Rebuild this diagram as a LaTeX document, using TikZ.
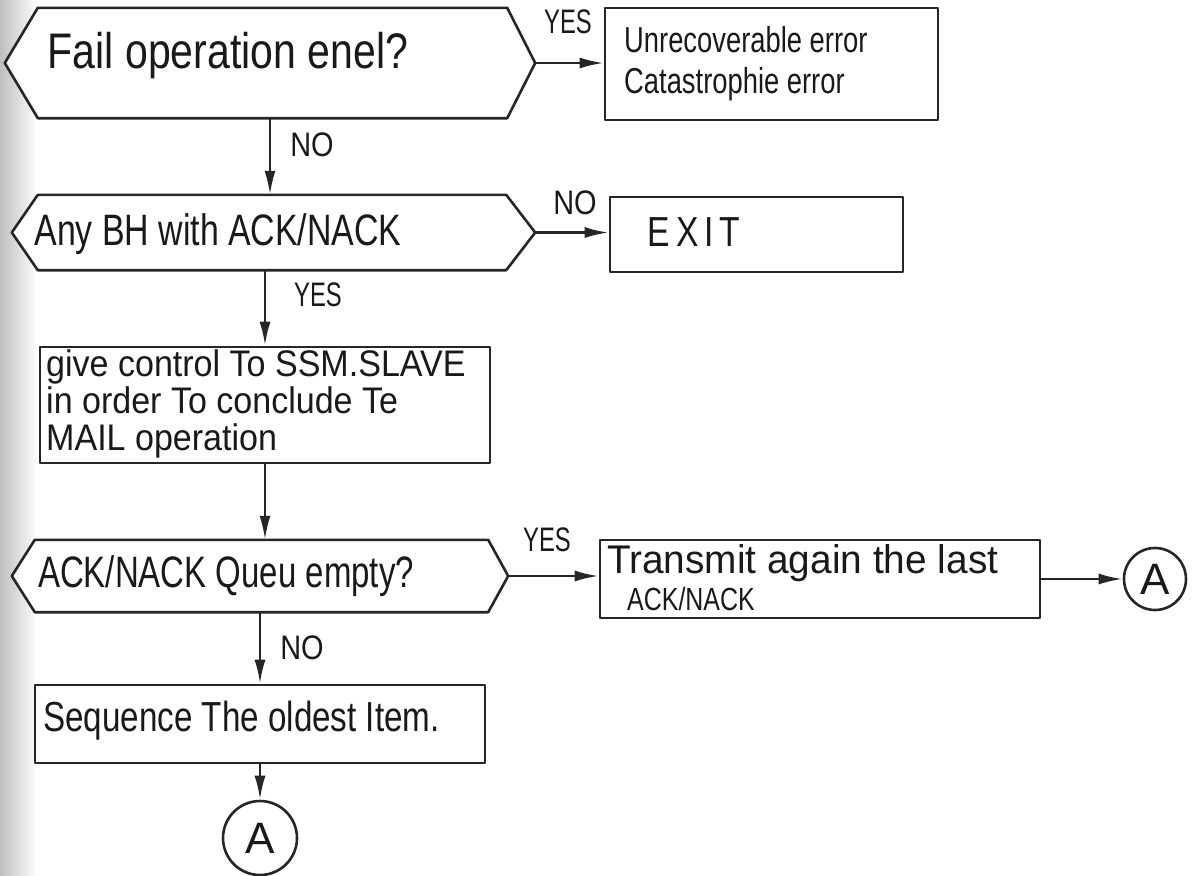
\documentclass[tikz,border=0pt]{standalone}
\usepackage{fontspec}
\usepackage{graphicx}
\setmainfont{Liberation Sans}
\usetikzlibrary{arrows.meta,calc}
% outline of a decision hexagon around an (undrawn) node: #1 name, #2 left tip depth, #3 right tip depth
\newcommand\hexoutline[3]{%
  \draw[ink,fill=white] (#1.west) -- ($(#1.north west)+(#2,0)$) -- ($(#1.north east)+(-#3,0)$)
    -- (#1.east) -- ($(#1.south east)+(-#3,0)$) -- ($(#1.south west)+(#2,0)$) -- cycle;}
% font size and a narrow, upright lettering
\newcommand\fs[1]{\fontsize{#1}{37}\selectfont}
\newcommand\sq[2]{\scalebox{#1}[1]{#2}}
\begin{document}
\begin{tikzpicture}[x=1pt,y=-1pt,
  ink/.style={draw=black!85,line width=2.6pt,line join=round},
  frame/.style={ink,fill=white,rectangle,inner sep=0pt},
  hexa/.style={inner sep=0pt},
  txt/.style={inner sep=0pt,text=black!90},
  lbl/.style={inner sep=0pt,font=\fs{34},text=black!90},
  flow/.style={draw=black!85,line width=2.6pt,-{Latex[length=24pt,width=11pt]}},
  conn/.style={ink,fill=white,circle,inner sep=0pt,font=\fs{44},text=black!90}
]
\useasboundingbox (0,0) rectangle (1203,876);
\fill[white] (0,0) rectangle (1203,876);
\shade[left color=black!25,right color=white] (0,0) rectangle (38,876);

% first decision and its error exit
\node[hexa,minimum width=530pt,minimum height=110pt] (d1) at (270,63) {};
\hexoutline{d1}{33}{28}
\node[txt,font=\fs{50}] (d1t) at (228,56) {\sq{0.82}{Fail operation enel?}};
\node[frame,minimum width=333pt,minimum height=112pt] (b1) at (771.5,64) {};
\node[txt,font=\fs{36},anchor=west,align=left] (b1t) at (624,64)
  {\sq{0.76}{Unrecoverable error}\\[4pt]\sq{0.76}{Catastrophie error}};
\draw[flow] (d1.east) -- (d1.east -| b1.west);
\node[lbl] (y1) at (568,22) {\sq{0.7}{YES}};

% second decision
\node[hexa,minimum width=523pt,minimum height=75pt] (d2) at (273.5,232.5) {};
\hexoutline{d2}{26}{29}
\node[txt,font=\fs{44}] (d2t) at (218,234) {\sq{0.77}{Any BH with ACK/NACK}};
\draw[flow] (d1.south) -- (d1.south |- d2.north);
\node[lbl] (n1) at (312,145) {\sq{0.85}{NO}};
\node[frame,minimum width=293pt,minimum height=75pt] (b2) at (756.5,234.5) {};
\node[txt,font=\fs{42}] (b2t) at (694,232) {\sq{0.8}{\addfontfeature{LetterSpace=18}EXIT}};
\draw[flow] (d2.east) -- (d2.east -| b2.west);
\node[lbl] (n2) at (575,203) {\sq{0.85}{NO}};

% hand-over step
\node[frame,minimum width=450pt,minimum height=116pt] (b3) at (265,405) {};
\node[txt,font=\fs{37},anchor=west,align=left] (b3t) at (46,404)
  {\sq{0.92}{give control To SSM.SLAVE}\\\sq{0.92}{in order To conclude Te}\\\sq{0.92}{MAIL operation}};
\draw[flow] (b3.north |- d2.south) -- (b3.north);
\node[lbl] (y2) at (318,295) {\sq{0.7}{YES}};

% queue check
\node[hexa,minimum width=496pt,minimum height=72pt] (d3) at (260,576) {};
\hexoutline{d3}{23}{20}
\node[txt,font=\fs{44}] (d3t) at (226,576) {\sq{0.75}{ACK/NACK Queu empty?}};
\draw[flow] (b3.south) -- (b3.south |- d3.north);
\node[frame,minimum width=440pt,minimum height=78pt] (b4) at (820,579) {};
\node[txt,font=\fs{40},anchor=west,align=left] (b4t) at (607,578)
  {\sq{0.97}{Transmit again the last}\\\hspace*{20pt}{\fs{32}\sq{0.78}{ACK/NACK}}};
\draw[flow] (d3.east) -- (d3.east -| b4.west);
\node[lbl] (y3) at (547,540) {\sq{0.7}{YES}};
\node[conn,minimum size=62pt] (a1) at (1155,579) {A};
\draw[flow] (b4.east) -- (a1.west);

% oldest item
\node[frame,minimum width=450pt,minimum height=78pt] (b5) at (260,724) {};
\node[txt,font=\fs{42},anchor=west] (b5t) at (43,721) {\sq{0.79}{Sequence The oldest Item.}};
\draw[flow] (d3.south) -- (d3.south |- b5.north);
\node[lbl] (n3) at (302,648) {\sq{0.85}{NO}};
\node[conn,minimum size=74pt] (a2) at (260,838) {A};
\draw[flow] (b5.south) -- (a2.north);
\end{tikzpicture}
\end{document}
